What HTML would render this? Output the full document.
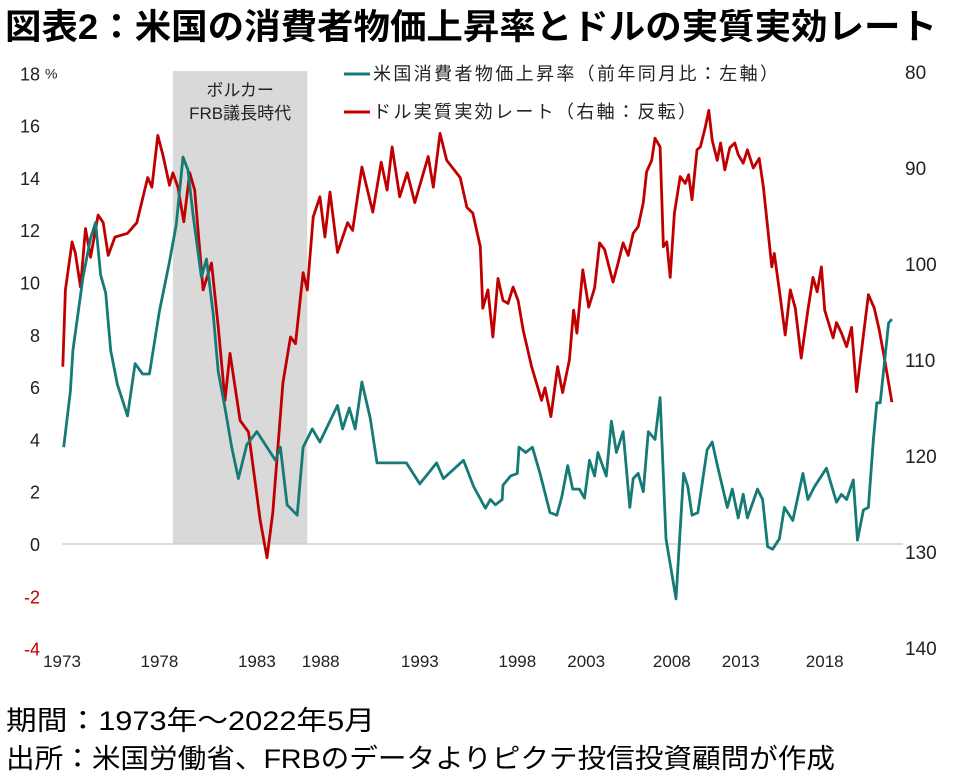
<!DOCTYPE html>
<html><head><meta charset="utf-8"><style>
body{margin:0;background:#fff;}
svg{display:block;font-family:"Liberation Sans","Noto Sans CJK JP",sans-serif;}
</style></head><body>
<svg id="c" width="964" height="782" viewBox="0 0 964 782">
<text x="5" y="39" font-size="35" font-weight="bold" fill="#000" textLength="932" lengthAdjust="spacingAndGlyphs">図表2：米国の消費者物価上昇率とドルの実質実効レート</text>
<g id="plot"></g>
<text x="6" y="730" font-size="27" fill="#000" textLength="369" lengthAdjust="spacingAndGlyphs">期間：1973年～2022年5月</text>
<text x="6" y="768" font-size="27" fill="#000" textLength="829" lengthAdjust="spacingAndGlyphs">出所：米国労働省、FRBのデータよりピクテ投信投資顧問が作成</text>
</svg>
<script>
const leftTicks=[18,16,14,12,10,8,6,4,2,0,-2,-4];
const rightTicks=[80,90,100,110,120,130,140];
const xTickLabels=["1973","1978","1983","1988","1993","1998","2003","2008","2013","2018"];
const xTickLabelPos=[1973,1978.8,1984.6,1988.4,1994.3,2000.1,2004.2,2009.3,2013.4,2018.4];
const volckerRange=[1979.6,1987.6];
const cpiYears=[1973.1,1973.5,1973.65,1974.25,1974.7,1975.0,1975.3,1975.6,1975.9,1976.3,1976.6,1976.9,1977.35,1977.8,1978.2,1978.8,1979.4,1979.8,1980.2,1980.5,1980.8,1981.3,1981.6,1982.0,1982.3,1982.7,1983.1,1983.5,1984.0,1984.6,1985.2,1985.7,1986.0,1986.4,1987.0,1987.35,1987.9,1988.35,1989.4,1989.7,1990.1,1990.45,1990.85,1991.35,1991.75,1993.5,1994.3,1995.3,1995.7,1996.9,1997.5,1998.2,1998.5,1998.8,1999.2,1999.25,1999.7,2000.1,2000.2,2000.6,2001.0,2001.45,2002.05,2002.45,2002.75,2003.1,2003.4,2003.8,2004.1,2004.4,2004.7,2004.9,2005.4,2005.7,2006.0,2006.4,2006.8,2007.0,2007.3,2007.6,2007.9,2008.3,2008.6,2008.95,2009.55,2010.0,2010.25,2010.5,2010.85,2011.4,2011.7,2012.05,2012.6,2012.9,2013.25,2013.55,2013.8,2014.4,2014.7,2015.0,2015.3,2015.7,2016.0,2016.5,2017.1,2017.4,2017.8,2018.5,2019.1,2019.4,2019.7,2020.1,2020.35,2020.7,2021.0,2021.3,2021.5,2021.7,2022.2,2022.4];
const cpiVals=[3.7,5.85,7.4,10.2,11.7,12.3,10.3,9.6,7.4,6.1,5.5,4.9,6.9,6.5,6.5,8.9,10.8,12.2,14.8,14.3,12.6,10.2,10.9,8.8,6.6,5.2,3.7,2.5,3.8,4.3,3.7,3.2,3.7,1.5,1.1,3.7,4.4,3.9,5.3,4.4,5.2,4.4,6.2,4.8,3.1,3.1,2.3,3.1,2.5,3.2,2.2,1.37,1.7,1.5,1.7,2.25,2.6,2.7,3.7,3.5,3.7,2.7,1.2,1.1,1.8,3.0,2.1,2.1,1.75,3.2,2.6,3.5,2.6,4.7,3.5,4.3,1.4,2.5,2.7,2.0,4.3,4.0,5.6,0.2,-2.1,2.7,2.2,1.1,1.2,3.6,3.9,2.9,1.4,2.1,1.0,1.9,1.0,2.1,1.7,-0.1,-0.2,0.2,1.4,0.9,2.7,1.7,2.2,2.9,1.6,1.9,1.7,2.45,0.15,1.3,1.4,4.0,5.4,5.4,8.45,8.6];
const reerYears=[1973.05,1973.2,1973.6,1973.8,1974.1,1974.4,1974.7,1975.15,1975.45,1975.75,1976.15,1976.9,1977.45,1978.1,1978.35,1978.7,1979.0,1979.4,1979.6,1979.9,1980.25,1980.6,1980.9,1981.4,1981.9,1982.3,1982.7,1983.0,1983.6,1984.1,1984.8,1985.2,1985.55,1986.15,1986.6,1986.9,1987.35,1987.6,1987.95,1988.35,1988.65,1988.95,1989.4,1990.0,1990.3,1990.85,1991.5,1992.0,1992.35,1992.65,1993.1,1993.55,1994.0,1994.8,1995.1,1995.5,1995.9,1996.7,1997.1,1997.45,1997.9,1998.05,1998.35,1998.65,1998.95,1999.25,1999.55,1999.85,2000.15,2000.45,2000.95,2001.55,2001.75,2002.1,2002.5,2002.8,2003.2,2003.45,2003.65,2004.0,2004.35,2004.7,2005.0,2005.3,2005.8,2006.1,2006.4,2006.7,2007.0,2007.3,2007.6,2007.8,2008.1,2008.3,2008.6,2008.8,2009.0,2009.2,2009.45,2009.8,2010.1,2010.3,2010.5,2010.8,2011.0,2011.3,2011.5,2011.7,2012.0,2012.2,2012.45,2012.75,2013.05,2013.25,2013.55,2013.8,2014.15,2014.5,2014.75,2015.25,2015.4,2015.75,2016.05,2016.35,2016.65,2017.0,2017.4,2017.7,2017.95,2018.2,2018.4,2018.9,2019.1,2019.4,2019.7,2020.0,2020.3,2020.65,2021.0,2021.35,2021.65,2021.95,2022.4];
const reerVals=[110.7,102.7,97.7,98.9,102.4,96.3,99.3,94.9,95.7,99.1,97.2,96.8,95.7,91.0,92.0,86.6,88.6,91.8,90.5,92.0,95.6,90.5,92.3,102.7,99.9,106.5,114.2,109.3,116.3,117.5,126.7,130.6,125.9,112.4,107.6,108.3,100.9,102.7,95.1,93.0,97.2,92.5,98.8,95.7,96.5,89.9,94.6,89.4,92.3,87.8,93.0,90.5,93.6,88.8,92.0,86.4,89.2,91.0,94.1,94.7,98.2,104.6,102.7,107.6,101.5,103.8,104.1,102.4,103.8,106.9,110.7,114.2,112.9,115.9,110.7,113.4,110.0,104.8,107.2,100.6,104.5,102.5,97.8,98.5,101.9,99.9,97.8,99.1,96.8,96.1,93.6,90.4,89.2,86.9,87.8,98.2,97.7,101.4,94.7,90.9,91.6,90.7,93.3,88.1,87.8,85.7,84.0,87.1,89.2,87.4,90.2,87.9,87.4,88.6,89.5,88.1,90.0,89.0,92.0,100.3,98.9,103.4,107.4,102.7,104.6,109.8,104.8,101.4,102.9,100.3,104.8,107.7,106.1,107.2,108.6,106.6,113.3,108.2,103.2,104.6,106.9,109.8,114.4];

const NS='http://www.w3.org/2000/svg';
const g=document.getElementById('plot');
const X0=62,PXY=16.8;
function xs(yr){return X0+(yr-1973)*PXY;}
function yL(v){return 544-v*26.15;}
function yR(r){return 72+(r-80)*9.6;}
function mk(tag,attrs,parent){const e=document.createElementNS(NS,tag);for(const k in attrs)e.setAttribute(k,attrs[k]);(parent||g).appendChild(e);return e;}

let sh=mk('rect',{x:xs(volckerRange[0]),y:71,width:xs(volckerRange[1])-xs(volckerRange[0]),height:544-71,fill:'#d9d9d9'});


let cx=(xs(volckerRange[0])+xs(volckerRange[1]))/2;
let t1=mk('text',{x:cx,y:96,'font-size':17,'text-anchor':'middle',fill:'#222'});t1.textContent='ボルカー';


let t2=mk('text',{x:cx,y:119,'font-size':17,'text-anchor':'middle',fill:'#222'});t2.textContent='FRB議長時代';



let zl=mk('line',{x1:62,x2:903,y1:yL(0),y2:yL(0),stroke:'#d0d0d0','stroke-width':1.5});



leftTicks.forEach(v=>{const t=mk('text',{x:40,y:yL(v)+7,'font-size':18,'text-anchor':'end',fill:v<0?'#c00000':'#222'});t.textContent=String(v);

});
let pc=mk('text',{x:45,y:yL(18)+5,'font-size':14,fill:'#222'});pc.textContent='%';


rightTicks.forEach(r=>{const t=mk('text',{x:905,y:yR(r)+7,'font-size':19,fill:'#222'});t.textContent=String(r);

});
xTickLabels.forEach((s,i)=>{const t=mk('text',{x:xs(xTickLabelPos[i]),y:667,'font-size':17,'text-anchor':'middle',fill:'#222'});t.textContent=s;

});

function path(xsA,ysA,fy){return xsA.map((yr,i)=>(i?'L':'M')+xs(yr).toFixed(1)+','+fy(ysA[i]).toFixed(1)).join(' ');}
let pr=mk('path',{d:path(reerYears,reerVals,yR),fill:'none',stroke:'#c00000','stroke-width':2.8,'stroke-linejoin':'round'});


let pt=mk('path',{d:path(cpiYears,cpiVals,yL),fill:'none',stroke:'#167a77','stroke-width':2.8,'stroke-linejoin':'round'});



let l1=mk('line',{x1:344,x2:370,y1:74,y2:74,stroke:'#167a77','stroke-width':3});


let lt1=mk('text',{x:373,y:80,'font-size':18,fill:'#222',textLength:405,lengthAdjust:'spacing'});lt1.textContent='米国消費者物価上昇率（前年同月比：左軸）';


let l2=mk('line',{x1:344,x2:370,y1:112,y2:112,stroke:'#c00000','stroke-width':3});


let lt2=mk('text',{x:373,y:118,'font-size':18,fill:'#222',textLength:323,lengthAdjust:'spacing'});lt2.textContent='ドル実質実効レート（右軸：反転）';


</script>
</body></html>
